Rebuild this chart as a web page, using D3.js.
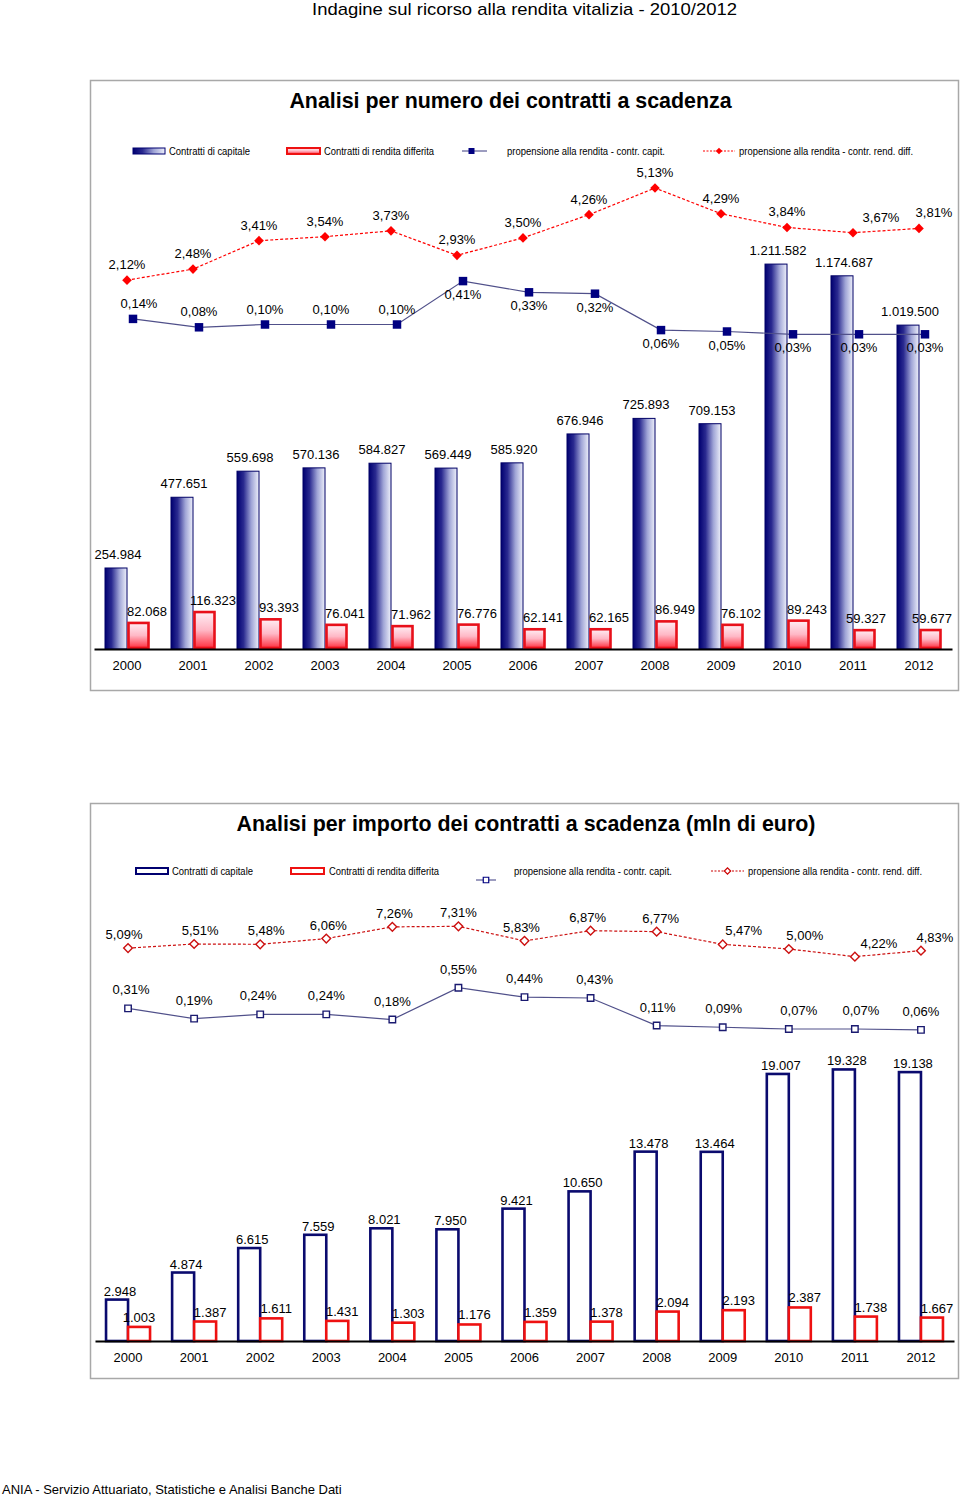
<!DOCTYPE html>
<html><head><meta charset="utf-8">
<script src="https://cdn.jsdelivr.net/npm/d3@7"></script>
<style>
body{margin:0;background:#fff;}
svg{display:block;font-family:"Liberation Sans",Arial,sans-serif;}
.narrow{font-family:"Liberation Sans Narrow","Arial Narrow","Liberation Sans",Arial,sans-serif;}
</style>
</head><body>
<svg id="c" width="960" height="1496"></svg>
<script>
// ---------------- DATA ----------------
const years = ["2000","2001","2002","2003","2004","2005","2006","2007","2008","2009","2010","2011","2012"];

// Analisi per numero
const numCapitale = [254984, 477651, 559698, 570136, 584827, 569449, 585920, 676946, 725893, 709153, 1211582, 1174687, 1019500];
const numRendita  = [82068, 116323, 93393, 76041, 71962, 76776, 62141, 62165, 86949, 76102, 89243, 59327, 59677];
const numPropCap  = [0.14, 0.08, 0.10, 0.10, 0.10, 0.41, 0.33, 0.32, 0.06, 0.05, 0.03, 0.03, 0.03];
const numPropRend = [2.12, 2.48, 3.41, 3.54, 3.73, 2.93, 3.50, 4.26, 5.13, 4.29, 3.84, 3.67, 3.81];

// Analisi per importo (mln di euro)
const impCapitale = [2948, 4874, 6615, 7559, 8021, 7950, 9421, 10650, 13478, 13464, 19007, 19328, 19138];
const impRendita  = [1003, 1387, 1611, 1431, 1303, 1176, 1359, 1378, 2094, 2193, 2387, 1738, 1667];
const impPropCap  = [0.31, 0.19, 0.24, 0.24, 0.18, 0.55, 0.44, 0.43, 0.11, 0.09, 0.07, 0.07, 0.06];
const impPropRend = [5.09, 5.51, 5.48, 6.06, 7.26, 7.31, 5.83, 6.87, 6.77, 5.47, 5.00, 4.22, 4.83];

const legendLabels = ["Contratti di capitale", "Contratti di rendita differita",
  "propensione alla rendita - contr. capit.", "propensione alla rendita - contr. rend. diff."];

// ---------------- LAYOUT (label nudges) ----------------
const topRendNudge = [0,0,0,0,0,0,0,0,0,0,0,28,15];
const botRendNudge = [-4,6,6,2,2,0,-3,-3,4,21,16,24,14];
const botCapNudge  = [3,0,-2,0,0,0,0,4,1,1,10,6,0];

// ---------------- HELPERS ----------------
const fmtInt = v => d3.format(",")(v).replace(/,/g, ".");
const fmtPct = v => v.toFixed(2).replace(".", ",") + "%";

const svg = d3.select("#c");
const defs = svg.append("defs");
const gB = defs.append("linearGradient").attr("id","gBlue").attr("x1",0).attr("x2",1).attr("y1",0).attr("y2",0);
[[0,"#000070"],[0.3,"#2a2a90"],[0.65,"#9fa4d6"],[1,"#eef0fa"]].forEach(s=>gB.append("stop").attr("offset",s[0]).attr("stop-color",s[1]));
const gR = defs.append("linearGradient").attr("id","gRed").attr("x1",0).attr("x2",0).attr("y1",0).attr("y2",1);
[[0,"#ffeef4"],[0.5,"#ffb8c6"],[1,"#ff3040"]].forEach(s=>gR.append("stop").attr("offset",s[0]).attr("stop-color",s[1]));

const diamond = (sz) => d3.symbol(d3.symbolSquare, sz)();

// Header / footer
svg.append("text").attr("class","narrow").attr("x",524.5).attr("y",15).attr("text-anchor","middle")
  .attr("font-size",17).attr("textLength",425).attr("lengthAdjust","spacingAndGlyphs")
  .text("Indagine sul ricorso alla rendita vitalizia - 2010/2012");
svg.append("text").attr("x",2).attr("y",1494).attr("font-size",13)
  .text("ANIA - Servizio Attuariato, Statistiche e Analisi Banche Dati");

function frame(x,y,w,h){
  svg.append("rect").attr("x",x+0.5).attr("y",y+0.5).attr("width",w).attr("height",h)
    .attr("fill","none").attr("stroke","#a8a8a8").attr("stroke-width",1.5);
}

function legend(g, y, filled, pos){
  const ty = y + 3.5;
  g.append("rect").attr("x",pos[0]).attr("y",y-3).attr("width",32).attr("height",6)
    .attr("fill", filled ? "url(#gBlue)" : "#fff").attr("stroke","#000070").attr("stroke-width", filled?1:2);
  g.append("text").attr("class","narrow").attr("x",pos[1]).attr("y",ty).attr("font-size",10)
    .attr("textLength",pos[2]).attr("lengthAdjust","spacingAndGlyphs").text(legendLabels[0]);
  g.append("rect").attr("x",pos[3]).attr("y",y-3).attr("width",33).attr("height",6)
    .attr("fill", filled ? "url(#gRed)" : "#fff").attr("stroke","#ee1111").attr("stroke-width",2);
  g.append("text").attr("class","narrow").attr("x",pos[4]).attr("y",ty).attr("font-size",10)
    .attr("textLength",pos[5]).attr("lengthAdjust","spacingAndGlyphs").text(legendLabels[1]);
  const ly = pos[14];
  g.append("line").attr("x1",pos[6]).attr("x2",pos[7]).attr("y1",ly).attr("y2",ly).attr("stroke","#3a3a80").attr("stroke-width",1);
  g.append("path").attr("d", d3.symbol(d3.symbolSquare, filled?36:30)())
    .attr("transform",`translate(${(pos[6]+pos[7])/2 + (filled?-3:0)},${ly})`)
    .attr("fill", filled ? "#000080" : "#fff").attr("stroke","#000080").attr("stroke-width", filled?0:1.2);
  g.append("text").attr("class","narrow").attr("x",pos[8]).attr("y",ty).attr("font-size",10)
    .attr("textLength",pos[9]).attr("lengthAdjust","spacingAndGlyphs").text(legendLabels[2]);
  g.append("line").attr("x1",pos[10]).attr("x2",pos[11]).attr("y1",y).attr("y2",y).attr("stroke",filled?"#ff0000":"#cc0000")
    .attr("stroke-width",1).attr("stroke-dasharray","2,1.5");
  g.append("path").attr("d", diamond(filled?22:20))
    .attr("transform",`translate(${(pos[10]+pos[11])/2},${y}) rotate(45)`)
    .attr("fill", filled ? "#ff0000" : "#fff").attr("stroke", filled?"none":"#cc0000").attr("stroke-width",1.2);
  g.append("text").attr("class","narrow").attr("x",pos[12]).attr("y",ty).attr("font-size",10)
    .attr("textLength",pos[13]).attr("lengthAdjust","spacingAndGlyphs").text(legendLabels[3]);
}

function xAxis(g, x, base){
  const ax = g.append("g").attr("transform",`translate(0,${base})`)
    .call(d3.axisBottom(x).tickSize(0).tickSizeOuter(0).tickPadding(12));
  ax.select(".domain").attr("stroke","#000").attr("stroke-width",2.2);
  ax.selectAll(".tick text").attr("font-size",13).attr("font-family","Liberation Sans, Arial, sans-serif").attr("fill","#000");
}

// ================= CHART 1 =================
frame(90,80,868,610);
svg.append("text").attr("x",510.5).attr("y",108).attr("text-anchor","middle").attr("font-size",21.4)
  .attr("font-weight","bold").text("Analisi per numero dei contratti a scadenza");

const g1 = svg.append("g");
legend(g1, 151, true, [133,169,81, 287,324,110, 462,487, 507,158, 703,735, 739,174, 151]);

const x1 = d3.scaleBand().domain(years).range([94, 952]);
const c1 = d => x1(d) + x1.bandwidth()/2;
const y1 = d3.scaleLinear().domain([0, 1300000]).range([649, 236]);
const y1R = d3.scaleLinear().domain([0, 6]).range([345, 161.4]);
const y1C = d3.scaleLinear().domain([0, 1]).range([338.5, 198.5]);
const bw1 = 22;

g1.selectAll(".bc").data(numCapitale).join("rect")
  .attr("x",(d,i)=>c1(years[i])-bw1).attr("width",bw1)
  .attr("y",d=>y1(d)).attr("height",d=>y1(0)-y1(d))
  .attr("fill","url(#gBlue)").attr("stroke","#000066").attr("stroke-width",1);
g1.selectAll(".br").data(numRendita).join("rect")
  .attr("x",(d,i)=>c1(years[i])+1.5).attr("width",bw1-2)
  .attr("y",d=>y1(d)).attr("height",d=>y1(0)-y1(d)-1)
  .attr("fill","url(#gRed)").attr("stroke","#e8101a").attr("stroke-width",2.6);

xAxis(g1, x1, 649);

g1.selectAll(".lc").data(numCapitale).join("text")
  .attr("x",(d,i)=>c1(years[i])-bw1/2+2).attr("y",d=>y1(d)-9).attr("text-anchor","middle")
  .attr("font-size",13).text(fmtInt);
g1.selectAll(".lr").data(numRendita).join("text")
  .attr("x",(d,i)=>c1(years[i])+bw1/2+(i>=11?2:9)).attr("y",d=>y1(d)-7).attr("text-anchor","middle")
  .attr("font-size",13).text(fmtInt);

// lines
const offC1 = 6;
g1.append("path").datum(numPropCap)
  .attr("d", d3.line().x((d,i)=>c1(years[i])+offC1).y(d=>y1C(d)))
  .attr("fill","none").attr("stroke","#50508a").attr("stroke-width",1.2);
g1.append("path").datum(numPropRend)
  .attr("d", d3.line().x((d,i)=>c1(years[i])).y(d=>y1R(d)))
  .attr("fill","none").attr("stroke","#ff0000").attr("stroke-width",1.2).attr("stroke-dasharray","3,2");
g1.selectAll(".mc").data(numPropCap).join("path")
  .attr("d", d3.symbol(d3.symbolSquare, 72)())
  .attr("transform",(d,i)=>`translate(${c1(years[i])+offC1},${y1C(d)})`).attr("fill","#000080");
g1.selectAll(".mr").data(numPropRend).join("path")
  .attr("d", diamond(46))
  .attr("transform",(d,i)=>`translate(${c1(years[i])},${y1R(d)}) rotate(45)`).attr("fill","#ff0000");

g1.selectAll(".tr").data(numPropRend).join("text")
  .attr("x",(d,i)=>c1(years[i])+topRendNudge[i]).attr("y",d=>y1R(d)-11).attr("text-anchor","middle")
  .attr("font-size",13).text(fmtPct);
g1.selectAll(".tc").data(numPropCap).join("text")
  .attr("x",(d,i)=>c1(years[i])+offC1+(i===0?6:0)).attr("y",(d,i)=> i<5 ? y1C(d)-11 : y1C(d)+18)
  .attr("text-anchor","middle").attr("font-size",13).text(fmtPct);

// ================= CHART 2 =================
frame(90,803,868,575);
svg.append("text").attr("x",526).attr("y",831).attr("text-anchor","middle").attr("font-size",21.4)
  .attr("font-weight","bold").text("Analisi per importo dei contratti a scadenza (mln di euro)");

const g2 = svg.append("g");
legend(g2, 871, false, [136,172,81, 291,329,110, 476,496, 514,158, 711,744, 748,174, 880]);

const x2 = d3.scaleBand().domain(years).range([95, 954]);
const c2 = d => x2(d) + x2.bandwidth()/2;
const y2 = d3.scaleLinear().domain([0, 20000]).range([1341, 1060]);
const y2R = d3.scaleLinear().domain([0, 10]).range([998, 900]);
const y2C = d3.scaleLinear().domain([0, 1]).range([1035, 949]);
const bw2 = 22;

g2.selectAll(".bc").data(impCapitale).join("rect")
  .attr("x",(d,i)=>c2(years[i])-bw2).attr("width",bw2)
  .attr("y",d=>y2(d)).attr("height",d=>y2(0)-y2(d))
  .attr("fill","#fff").attr("stroke","#0a0a6e").attr("stroke-width",2.6);
g2.selectAll(".br").data(impRendita).join("rect")
  .attr("x",(d,i)=>c2(years[i])).attr("width",bw2)
  .attr("y",d=>y2(d)).attr("height",d=>y2(0)-y2(d))
  .attr("fill","#fff").attr("stroke","#ee1111").attr("stroke-width",2.6);

xAxis(g2, x2, 1341);

g2.selectAll(".lc").data(impCapitale).join("text")
  .attr("x",(d,i)=>c2(years[i])-bw2/2+3).attr("y",d=>y2(d)-4).attr("text-anchor","middle")
  .attr("font-size",13).text(fmtInt);
g2.selectAll(".lr").data(impRendita).join("text")
  .attr("x",(d,i)=>c2(years[i])+bw2/2+(i===0?0:5)).attr("y",d=>y2(d)-5).attr("text-anchor","middle")
  .attr("font-size",13).text(fmtInt);

g2.append("path").datum(impPropCap)
  .attr("d", d3.line().x((d,i)=>c2(years[i])).y(d=>y2C(d)))
  .attr("fill","none").attr("stroke","#50508a").attr("stroke-width",1.2);
g2.append("path").datum(impPropRend)
  .attr("d", d3.line().x((d,i)=>c2(years[i])).y(d=>y2R(d)))
  .attr("fill","none").attr("stroke","#cc1111").attr("stroke-width",1.2).attr("stroke-dasharray","3,2");
g2.selectAll(".mc").data(impPropCap).join("path")
  .attr("d", d3.symbol(d3.symbolSquare, 42)())
  .attr("transform",(d,i)=>`translate(${c2(years[i])},${y2C(d)})`)
  .attr("fill","#fff").attr("stroke","#1a1a70").attr("stroke-width",1.4);
g2.selectAll(".mr").data(impPropRend).join("path")
  .attr("d", diamond(38))
  .attr("transform",(d,i)=>`translate(${c2(years[i])},${y2R(d)}) rotate(45)`)
  .attr("fill","#fff").attr("stroke","#cc1111").attr("stroke-width",1.4);

g2.selectAll(".tr").data(impPropRend).join("text")
  .attr("x",(d,i)=>c2(years[i])+botRendNudge[i]).attr("y",d=>y2R(d)-9).attr("text-anchor","middle")
  .attr("font-size",13).text(fmtPct);
g2.selectAll(".tc").data(impPropCap).join("text")
  .attr("x",(d,i)=>c2(years[i])+botCapNudge[i]).attr("y",d=>y2C(d)-14).attr("text-anchor","middle")
  .attr("font-size",13).text(fmtPct);
</script>
</body></html>
